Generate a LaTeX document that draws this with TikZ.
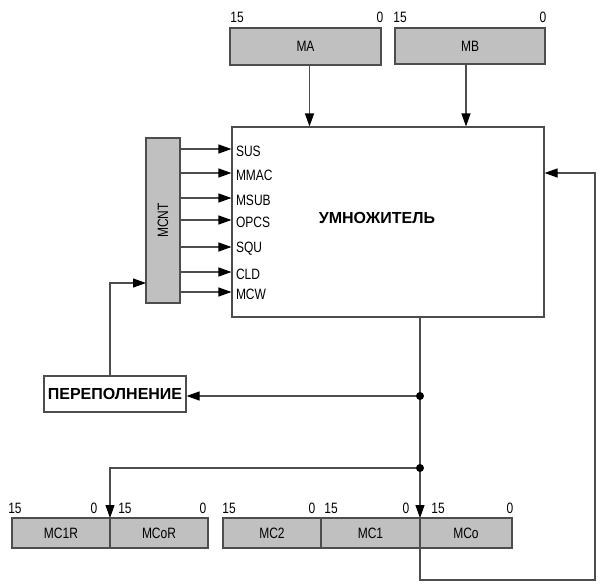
\documentclass[tikz,border=0pt]{standalone}
\usepackage{fontspec}
\setmainfont{Liberation Sans}
\newfontfamily\narrowfont[FakeStretch=0.8]{Liberation Sans}
\usetikzlibrary{arrows.meta}
\usetikzlibrary{positioning}
\usepackage{xcolor}

\definecolor{linegray}{HTML}{4D4D4D}
\definecolor{boxgray}{HTML}{C0C0C0}

\tikzset{
	wire/.style={draw=linegray, line width=1.1pt},
	arr/.style={wire, -{Triangle[length=13pt,width=9pt,color=black]}},
	reg/.style={draw=linegray, fill=boxgray, line width=1.2pt, inner sep=0pt, outer sep=0pt,
		font=\narrowfont\fontsize{15}{17}\selectfont},
	sig/.style={font=\narrowfont\fontsize{15}{17}\selectfont, inner sep=4pt},
	bit/.style={font=\narrowfont\fontsize{15}{17}\selectfont, inner sep=0pt},
	tap/.style={fill=black}
}

\begin{document}
\begin{tikzpicture}[x=1pt, y=-1pt] % multiplier block
	
	\useasboundingbox (0,0) rectangle (600,587);
	
	%input registers
	\node[reg, minimum width=151pt, minimum height=37pt] (mA) at (305.5,46.5) {MA};
	\node[reg, minimum width=150pt, minimum height=36pt] (mB) at (470,46) {MB};
	
	%multiplier and control register
	\node[wire, minimum width=312pt, minimum height=190pt] (mult) at (388,222) {};
	\node[font=\bfseries\fontsize{16}{18}\selectfont] (multname) at (377,218) {УМНОЖИТЕЛЬ};
	\node[reg, minimum width=34pt, minimum height=165pt] (mcnt) at (163,220.5) {};
	\node[rotate=90, font=\narrowfont\fontsize{15}{17}\selectfont] (mcntname) at (mcnt.center) {MCNT};
	
	\node[wire, fill=white, minimum width=142pt, minimum height=36pt, inner sep=0pt,
		font=\bfseries\fontsize{16}{17}\selectfont] (over) at (115,394) {ПЕРЕПОЛНЕНИЕ};
	
	%result registers
	\node[reg, minimum width=98pt, minimum height=30pt] (mc1r) at (61,533) {MC1R};
	\node[reg, minimum width=98pt, minimum height=30pt, right=0pt of mc1r] (mc0r) {MCoR};
	\node[reg, minimum width=98pt, minimum height=30pt] (mc2) at (272,533) {MC2};
	\node[reg, minimum width=99pt, minimum height=30pt, right=0pt of mc2] (mc1) {MC1};
	\node[reg, minimum width=92pt, minimum height=30pt, right=0pt of mc1] (mc0) {MCo};
	
	%bit numbers
	\foreach \x/\bitval [count=\i] in {237/15,380/0,400/15,543/0}
		\node[bit] (tb\i) at (\x,17) {\bitval};
	\foreach \x/\bitval [count=\i] in {15/15,94/0,125/15,203/0,229/15,312/0,331/15,406/0,438/15,510/0}
		\node[bit] (bb\i) at (\x,508) {\bitval};
	
	%arrows
	\draw[arr] ([xshift=4pt]mA.south) -- ([xshift=4pt]mA.south |- mult.north);
	\draw[arr] ([xshift=-4pt]mB.south) -- ([xshift=-4pt]mB.south |- mult.north);
	
	\foreach \y/\signame in {149/SUS,173/MMAC,198/MSUB,220/OPCS,247/SQU,272/CLD,292/MCW}
		\draw[arr] (mcnt.east |- 0,\y) -- (mult.west |- 0,\y) node[sig, right, yshift=-2pt] {\signame};
	
	\coordinate (tapA) at (mc0.north west |- 0,396);
	\coordinate (tapB) at (mc0.north west |- 0,468);
	\coordinate (loopcorner) at (595,173);
	
	\draw[wire] (mult.south -| tapA) -- (tapB);
	\draw[arr] (tapA) -- (over.east |- tapA);
	\draw[arr] (tapB) -- (mc0.north west);
	\draw[arr] (tapB) -| (mc0r.north west);
	\draw[arr] ([xshift=-5pt]over.north) |- (mcnt.west |- 0,283);
	\draw[arr] (mc0.south west) |- (loopcorner |- 0,580) -- (loopcorner) -- (mult.east |- loopcorner);
	
	\fill[tap] (tapA) circle (4pt);
	\fill[tap] (tapB) circle (4pt);
	
\end{tikzpicture}
\end{document}
